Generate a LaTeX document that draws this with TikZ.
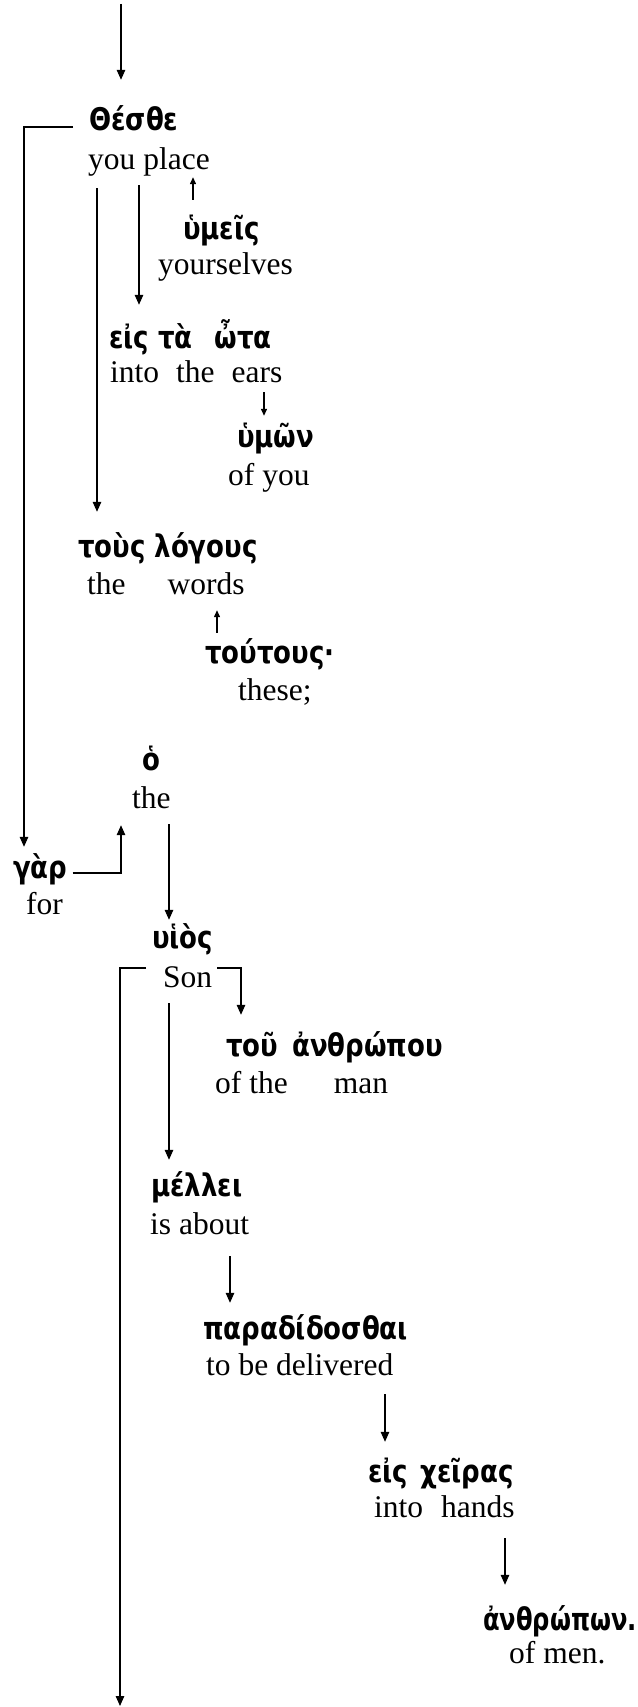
\documentclass[tikz,border=0pt]{standalone}
\usepackage{graphicx}
\usepackage{fontspec}
\setmainfont{Liberation Serif}
\newfontfamily\grk{DejaVu Sans}
\newcommand\grkword[1]{\scalebox{1}[1.2]{#1}}
\usetikzlibrary{arrows.meta,calc}
\tikzset{
  gk/.style={anchor=base west, inner sep=0pt, text height=20pt, text depth=6pt,
    font=\grk\bfseries\fontsize{26}{30}\selectfont},
  en/.style={anchor=base west, inner sep=0pt, text height=22pt, text depth=7pt,
    font=\fontsize{31.5}{36}\selectfont},
  conn/.style={line width=1.3pt, -{Triangle[length=10pt,width=8.5pt]}},
  sconn/.style={line width=1.3pt, -{Triangle[length=7pt,width=6pt]}},
}
\begin{document}
\begin{tikzpicture}[x=1pt,y=-1pt]
\fill[white] (0,0) rectangle (637,1707);
\useasboundingbox (0,0) rectangle (637,1707);

\node[gk] (g1) at (89,131) {\grkword{Θέσθε}};
\node[en] (e1) at (88,170) {you place};
\node[gk] (g2) at (183,239) {\grkword{ὑμεῖς}};
\node[en] (e2) at (158,274) {yourselves};
\node[gk] (g3) at (109,348) {\grkword{εἰς τὰ\hspace{22pt}ὦτα}};
\node[en] (e3) at (110,382) {into\hspace{17pt}the\hspace{17pt}ears};
\node[gk] (g4) at (237,447) {\grkword{ὑμῶν}};
\node[en] (e4) at (228,485) {of you};
\node[gk] (g5) at (78,557) {\grkword{τοὺς λόγους}};
\node[en] (e5) at (87,594) {the\hspace{42pt}words};
\node[gk] (g6) at (205,663) {\grkword{τούτους·}};
\node[en] (e6) at (238,700) {these;};
\node[gk] (g7) at (142,770) {\grkword{ὁ}};
\node[en] (e7) at (132,808) {the};
\node[gk] (g8) at (13,878) {\grkword{γὰρ}};
\node[en] (e8) at (26,914) {for};
\node[gk] (g9) at (152,948) {\grkword{υἱὸς}};
\node[en] (e9) at (163,987) {Son};
\node[gk] (g10) at (226,1056) {\grkword{τοῦ\hspace{14pt}ἀνθρώπου}};
\node[en] (e10) at (215,1093) {of the\hspace{46pt}man};
\node[gk] (g11) at (151,1196) {\grkword{μέλλει}};
\node[en] (e11) at (150,1234) {is about};
\node[gk] (g12) at (203,1339) {\grkword{παραδίδοσθαι}};
\node[en] (e12) at (206,1375) {to be delivered};
\node[gk] (g13) at (368,1482) {\grkword{εἰς\hspace{12pt}χεῖρας}};
\node[en] (e13) at (374,1517) {into\hspace{18pt}hands};
\node[gk] (g14) at (483,1630) {\scalebox{0.93}[1.2]{ἀνθρώπων.}};
\node[en] (e14) at (509,1663) {of men.};

\coordinate (top) at (121,4);
\coordinate (bot) at (120,1706);

% connectors
\draw[conn] (top) -- ($(g1.north -| top)+(0,-31)$);
\draw[conn] ($(g1.west)+(-16,3)$) -| ($(g8.north -| 24,0)+(0,-11)$);
\draw[conn] ($(e1.south -| 139,0)+(0,8)$) -- ($(g3.north -| 139,0)+(0,-23)$);
\draw[conn] ($(e1.south -| 97,0)+(0,11)$) -- ($(g5.north -| 97,0)+(0,-25)$);
\draw[sconn] ($(g2.north -| 193,0)+(0,-19)$) -- ($(e1.south -| 193,0)+(0,0)$);
\draw[sconn] ($(e3.south -| 264,0)+(0,3)$) -- ($(g4.north -| 264,0)+(0,-11)$);
\draw[sconn] ($(g6.north -| 217,0)+(0,-10)$) -- ($(e5.south -| 217,0)+(0,9)$);
\draw[conn] ($(g8.east)+(5,2)$) -| ($(e7.south -| 121,0)+(0,10)$);
\draw[conn] ($(e7.south -| 169,0)+(0,9)$) -- ($(g9.north -| 169,0)+(0,-8)$);
\draw[conn] ($(e9.west)+(-17,-11.5)$) -| (bot);
\draw[conn] ($(e9.east)+(5,-11.5)$) -| ($(g10.north -| 241,0)+(0,-21)$);
\draw[conn] ($(e9.south -| 169,0)+(0,9)$) -- ($(g11.north -| 169,0)+(0,-16)$);
\draw[conn] ($(e11.south -| 230,0)+(0,15)$) -- ($(g12.north -| 230,0)+(0,-16)$);
\draw[conn] ($(e12.south -| 385,0)+(0,12)$) -- ($(g13.north -| 385,0)+(0,-20)$);
\draw[conn] ($(e13.south -| 505,0)+(0,14)$) -- ($(g14.north -| 505,0)+(0,-25)$);
\end{tikzpicture}
\end{document}
